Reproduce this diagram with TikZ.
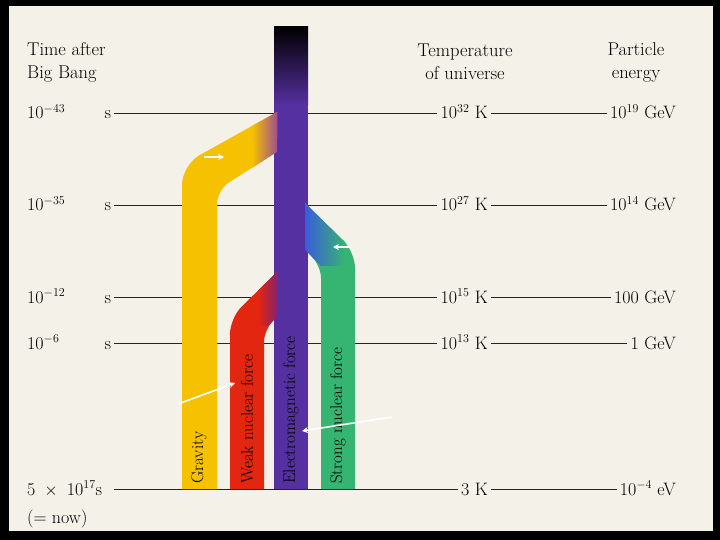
\documentclass[tikz,border=0pt]{standalone}
\usepackage{tikz}
\usetikzlibrary{positioning,arrows.meta}
\definecolor{paper}{HTML}{F4F1E9}
\definecolor{ink}{HTML}{2A2222}
\definecolor{grav}{HTML}{F6C100}
\definecolor{weak}{HTML}{E3260F}
\definecolor{em}{HTML}{5530A0}
\definecolor{strong}{HTML}{36B472}
\definecolor{gravmix}{HTML}{A0508E}
\definecolor{strongmix}{HTML}{3A5CDC}

\begin{document}
\begin{tikzpicture}[x=1pt, y=-1pt,
  head/.style={align=center, inner sep=0pt, font=\fontsize{18.5}{23}\selectfont},
  lbl/.style={inner sep=3pt, font=\fontsize{18}{23}\selectfont, text height=13pt, text depth=1pt},
  rule/.style={draw=ink, line width=0.9pt},
  bandtext/.style={rotate=90, anchor=west, inner sep=0pt, font=\fontsize{17}{20}\selectfont},
  note/.style={draw=white, line width=1.6pt, -{Stealth[length=6pt, width=6pt]}},
]
\useasboundingbox (0,0) rectangle (720,540);
\fill[black] (0,0) rectangle (720,540);
\fill[paper] (9,6) rectangle (713,531);

% column heads
\node[head, align=left, anchor=west] (time) at (27,62) {Time after\\Big Bang};
\node[head] (temp) at (465,62) {Temperature\\of universe};
\node[head] (energy) at (636,62) {Particle\\energy};

% rows
\node[lbl, anchor=west] (t1) at (24,113) {\makebox[84pt][l]{10$^{-43}$\hfill s}};
\node[lbl, anchor=east] (k1) at (491,113) {10$^{32}$ K};
\node[lbl, anchor=east] (e1) at (679,113) {10$^{19}$ GeV};
\node[lbl, anchor=west] (t2) at (24,205) {\makebox[84pt][l]{10$^{-35}$\hfill s}};
\node[lbl, anchor=east] (k2) at (491,205) {10$^{27}$ K};
\node[lbl, anchor=east] (e2) at (679,205) {10$^{14}$ GeV};
\node[lbl, anchor=west] (t3) at (24,297) {\makebox[84pt][l]{10$^{-12}$\hfill s}};
\node[lbl, anchor=east] (k3) at (491,297) {10$^{15}$ K};
\node[lbl, anchor=east] (e3) at (679,297) {100 GeV};
\node[lbl, anchor=west] (t4) at (24,343) {\makebox[84pt][l]{10$^{-6}$\hfill s}};
\node[lbl, anchor=east] (k4) at (491,343) {10$^{13}$ K};
\node[lbl, anchor=east] (e4) at (679,343) {1 GeV};
\node[lbl, anchor=west] (t5) at (24,489) {\makebox[84pt][l]{5\enspace$\times$\enspace10$^{17}$s}};
\node[lbl, anchor=east] (k5) at (491,489) {3 K};
\node[lbl, anchor=east] (e5) at (679,489) {10$^{-4}$ eV};
\node[lbl, anchor=west] (now) at (24,517) {(= now)};

\draw[rule] (t1) -- (k1);
\draw[rule] (k1) -- (e1);
\draw[rule] (t2) -- (k2);
\draw[rule] (k2) -- (e2);
\draw[rule] (t3) -- (k3);
\draw[rule] (k3) -- (e3);
\draw[rule] (t4) -- (k4);
\draw[rule] (k4) -- (e4);
\draw[rule] (t5) -- (k5);
\draw[rule] (k5) -- (e5);

% electromagnetic trunk
\shade[top color=black, bottom color=em] (274,27) rectangle (308,105);
\fill[em] (274,104) rectangle (308,489);

% gravity branch
\fill[grav] (277,112) [rounded corners=20] -- (182,165) -- (182,300) [sharp corners]
  -- (182,489) -- (217,489) [rounded corners=14] -- (217,190) -- (277,152) [sharp corners] -- cycle;
\begin{scope}
  \clip (277,112) -- (182,165) -- (182,489) -- (217,489) -- (217,190) -- (277,152) -- cycle;
  \shade[left color=grav, right color=gravmix] (252,100) rectangle (277,175);
\end{scope}

% weak branch
\fill[weak] (277,272) [rounded corners=16] -- (230,318) -- (230,400) [sharp corners]
  -- (230,489) -- (264,489) [rounded corners=12] -- (264,330) -- (277,317) [sharp corners] -- cycle;
\begin{scope}
  \clip (277,272) -- (230,318) -- (230,489) -- (264,489) -- (264,330) -- (277,317) -- cycle;
  \shade[left color=weak, right color=em!70!red] (258,265) rectangle (277,325);
\end{scope}

% strong branch
\fill[strong] (305,203) [rounded corners=16] -- (355,252) -- (355,400) [sharp corners]
  -- (355,489) -- (321,489) [rounded corners=12] -- (321,266) -- (305,250) [sharp corners] -- cycle;
\begin{scope}
  \clip (305,203) -- (355,252) -- (355,489) -- (321,489) -- (321,266) -- (305,250) -- cycle;
  \shade[left color=strongmix, right color=strong] (305,200) rectangle (345,265);
\end{scope}

% band labels
\node[bandtext] (gravity) at (199,484) {Gravity};
\node[bandtext] (weaklbl) at (247,484) {Weak nuclear force};
\node[bandtext] (emlbl) at (291,484) {Electromagnetic force};
\node[bandtext] (stronglbl) at (338,484) {Strong nuclear force};

% pointers
\coordinate (p1) at (204,157);
\coordinate (q1) at (224,157);
\coordinate (p2) at (351,247);
\coordinate (q2) at (333,247);
\coordinate (p3) at (178,404);
\coordinate (q3) at (235,383);
\coordinate (p4) at (392,417);
\coordinate (q4) at (302,431);
\draw[note] (p1) -- (q1);
\draw[note] (p2) -- (q2);
\draw[note] (p3) -- (q3);
\draw[note] (p4) -- (q4);
\end{tikzpicture}
\end{document}
